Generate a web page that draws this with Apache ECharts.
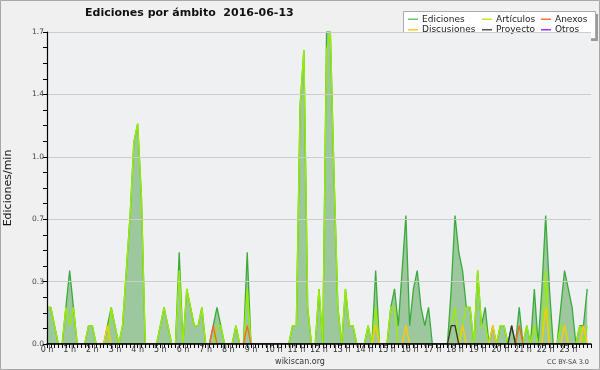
<!DOCTYPE html>
<html>
<head>
<meta charset="utf-8">
<script src="https://cdn.jsdelivr.net/npm/echarts@6/dist/echarts.min.js"></script>
<style>
html,body{margin:0;padding:0;background:#f0f0f0;}
#c{width:600px;height:370px;}
</style>
</head>
<body>
<div id="c"></div>
<script>
// 10-minute bins (144 per day), values in edits per minute
var ediciones = [0.2,0.2,0.1,0,0,0.2,0.4,0.2,0,0,0,0.1,0.1,0,0,0,0.1,0.2,0.1,0,
  0.1,0.4,0.7,1.1,1.2,0.8,0,0,0,0,0.1,0.2,0.1,0,0,0.5,0,0.3,0.2,0.1,
  0.1,0.2,0,0,0.1,0.2,0.1,0,0,0,0.1,0,0,0.5,0,0,0,0,0,0,
  0,0,0,0,0,0.1,0.1,1.3,1.6,0.2,0,0,0.3,0,1.7,1.7,0.9,0.2,0,0.3,
  0.1,0.1,0,0,0,0.1,0,0.4,0,0,0,0.2,0.3,0.1,0.4,0.7,0.1,0.3,0.4,0.2,
  0.1,0.2,0,0,0,0,0,0.3,0.7,0.5,0.4,0.2,0.2,0,0.4,0.1,0.2,0,0.1,0,
  0.1,0.1,0,0.1,0,0.2,0,0.1,0,0.3,0,0.3,0.7,0.3,0,0,0.2,0.4,0.3,0.2,
  0,0.1,0.1,0.3];
var articulos = [0.2,0.2,0.1,0,0,0.2,0.1,0.2,0,0,0,0.1,0.1,0,0,0,0,0.2,0.1,0,
  0.1,0.4,0.7,1.1,1.2,0.8,0,0,0,0,0.1,0.2,0.1,0,0,0.4,0,0.3,0.2,0.1,
  0.1,0.2,0,0,0,0.1,0.1,0,0,0,0.1,0,0,0.3,0,0,0,0,0,0,
  0,0,0,0,0,0.1,0.1,1.3,1.6,0.2,0,0,0.3,0,1.6,1.7,0.9,0.2,0,0.3,
  0.1,0.1,0,0,0,0.1,0,0.2,0,0,0,0.2,0.2,0,0,0,0,0,0,0,
  0,0,0,0,0,0,0,0.1,0.2,0,0.1,0.2,0.2,0,0.4,0.1,0.1,0,0,0,
  0.1,0.1,0,0,0,0,0,0.1,0,0.1,0,0,0.4,0,0,0,0.1,0.1,0,0,
  0,0.1,0,0.1];
var anexos = [0,0,0,0,0,0,0,0,0,0,0,0,0,0,0,0,0,0,0,0,
  0,0,0,0,0,0,0,0,0,0,0,0,0,0,0,0,0,0,0,0,
  0,0,0,0,0.1,0,0,0,0,0,0,0,0,0.1,0,0,0,0,0,0,
  0,0,0,0,0,0,0,0,0,0,0,0,0,0,0,0,0,0,0,0,
  0,0,0,0,0,0,0,0,0,0,0,0,0,0,0,0,0,0,0,0,
  0,0,0,0,0,0,0,0,0,0,0,0,0,0,0,0,0,0,0,0,
  0,0,0,0,0,0.1,0,0,0,0,0,0,0,0,0,0,0,0,0,0,
  0,0,0,0];
var discusiones = [0,0,0,0,0,0,0,0,0,0,0,0,0,0,0,0,0.1,0,0,0,
  0,0,0,0,0,0,0,0,0,0,0,0,0,0,0,0,0,0,0,0,
  0,0,0,0,0,0,0,0,0,0,0,0,0,0,0,0,0,0,0,0,
  0,0,0,0,0,0,0,0,0,0,0,0,0,0,0,0,0,0,0,0,
  0,0,0,0,0,0,0,0.1,0,0,0,0,0,0,0,0.1,0,0,0,0,
  0,0,0,0,0,0,0,0,0,0,0.1,0,0,0,0,0,0,0,0.1,0,
  0,0,0,0,0,0,0,0,0,0,0,0,0.2,0,0,0,0,0.1,0,0,
  0,0,0.1,0];
var proyecto = [0,0,0,0,0,0,0,0,0,0,0,0,0,0,0,0,0,0,0,0,
  0,0,0,0,0,0,0,0,0,0,0,0,0,0,0,0,0,0,0,0,
  0,0,0,0,0,0,0,0,0,0,0,0,0,0,0,0,0,0,0,0,
  0,0,0,0,0,0,0,0,0,0,0,0,0,0,0,0,0,0,0,0,
  0,0,0,0,0,0,0,0,0,0,0,0,0,0,0,0,0,0,0,0,
  0,0,0,0,0,0,0,0.1,0.1,0,0,0,0,0,0,0,0,0,0,0,
  0,0,0,0.1,0,0,0,0,0,0,0,0,0,0,0,0,0,0,0,0,
  0,0,0,0];
var otros = new Array(144).fill(0);
var yTicks = [0, 0.34, 0.68, 1.02, 1.36, 1.7];
var seriesNames = ['Ediciones','Artículos','Anexos','Discusiones','Proyecto','Otros'];
var seriesColors = ['#6fc46f','#bbee22','#ff7733','#ffcc22','#555555','#9933ff'];

function pairs(arr){ return arr.map(function(v,i){ return [i, v]; }); }

var chart = echarts.init(document.getElementById('c'), null, {renderer:'canvas'});
var font = 'DejaVu Sans';
function lineSeries(name, data, color, width, z){
  return {name:name, type:'line', data:pairs(data), symbol:'none', smooth:false,
    lineStyle:{color:color, width:width}, itemStyle:{color:color}, z:z, animation:false};
}
var total = lineSeries('Ediciones', ediciones, '#3aaa3a', 1.3, 2);
total.areaStyle = {color:'#9dc89d', opacity:1};
total.itemStyle = {color: seriesColors[0]};

function legendCol(left, names){
  return {orient:'vertical', left:left, top:14, itemWidth:10, itemHeight:1.5, itemGap:0,
    icon:'rect', textStyle:{fontFamily:font, fontSize:9, color:'#222', lineHeight:10.5, padding:[0,0,0,-1]},
    data: names.map(function(n){ return {name:n, itemStyle:{color:seriesColors[seriesNames.indexOf(n)]}}; }),
    selectedMode:false, padding:0};
}

chart.setOption({
  backgroundColor:'#f0f0f0',
  animation:false,
  title:{text:'Ediciones por ámbito  2016-06-13', left:85, top:8, padding:0,
    textStyle:{fontFamily:font, fontSize:11, fontWeight:'bold', color:'#111'}},
  legend:[legendCol(408, ['Ediciones','Discusiones']), legendCol(482, ['Artículos','Proyecto']), legendCol(541, ['Anexos','Otros'])],
  graphic:[
    {type:'rect', z:-10, shape:{x:0.5,y:0.5,width:599,height:369}, style:{fill:'#f0f0f0', stroke:'#a8a8a8', lineWidth:1}},
    {type:'rect', z:-2, shape:{x:406,y:14,width:192,height:27}, style:{fill:'#9a9a9a'}},
    {type:'rect', z:-1, shape:{x:403.5,y:11.5,width:192,height:27}, style:{fill:'#ffffff', stroke:'#aaaaaa', lineWidth:1}},
    {type:'text', x:300, y:362, style:{text:'wikiscan.org', font:'8px DejaVu Sans', fill:'#333', textAlign:'center', textVerticalAlign:'middle'}},
    {type:'text', x:589, y:362, style:{text:'CC BY-SA 3.0', font:'6.5px DejaVu Sans', fill:'#444', textAlign:'right', textVerticalAlign:'middle'}}
  ],
  grid:{left:47, right:9, top:32, bottom:26, show:true, backgroundColor:'#eff0f2', borderWidth:0,
    containLabel:false, outerBoundsMode:'none'},
  xAxis:{type:'value', min:0, max:144, interval:6, z:10,
    axisLine:{lineStyle:{color:'#000', width:1.5}},
    axisTick:{length:4, lineStyle:{color:'#000'}},
    minorTick:{show:true, splitNumber:6, length:4, lineStyle:{color:'#000'}},
    splitLine:{show:false},
    axisLabel:{fontFamily:font, fontSize:8, color:'#333', margin:2, showMaxLabel:false,
      formatter:function(v){ return v < 144 ? (v/6) + ' h' : ''; }}},
  yAxis:{type:'value', min:0, max:1.7, interval:0.34, z:10,
    name:'Ediciones/min', nameLocation:'middle', nameGap:33, nameRotate:90,
    nameTextStyle:{fontFamily:font, fontSize:11, color:'#111'},
    axisLine:{show:true, lineStyle:{color:'#000', width:1.2}},
    axisTick:{show:true, length:4, lineStyle:{color:'#000'}},
    minorTick:{show:true, splitNumber:4, length:4, lineStyle:{color:'#000'}},
    splitLine:{show:true, lineStyle:{color:'#cccccc', width:1}},
    axisLabel:{fontFamily:font, fontSize:7.5, color:'#444', margin:3,
      formatter:function(v){ return v.toFixed(1); }}},
  series:[
    lineSeries('Otros', otros, seriesColors[5], 1.2, 1),
    total,
    lineSeries('Artículos', articulos, '#99ee00', 1.4, 3),
    lineSeries('Anexos', anexos, '#ff6622', 1.3, 4),
    lineSeries('Discusiones', discusiones, '#ffcc00', 1.3, 5),
    lineSeries('Proyecto', proyecto, '#333333', 1.3, 6)
  ]
});
</script>
</body>
</html>
